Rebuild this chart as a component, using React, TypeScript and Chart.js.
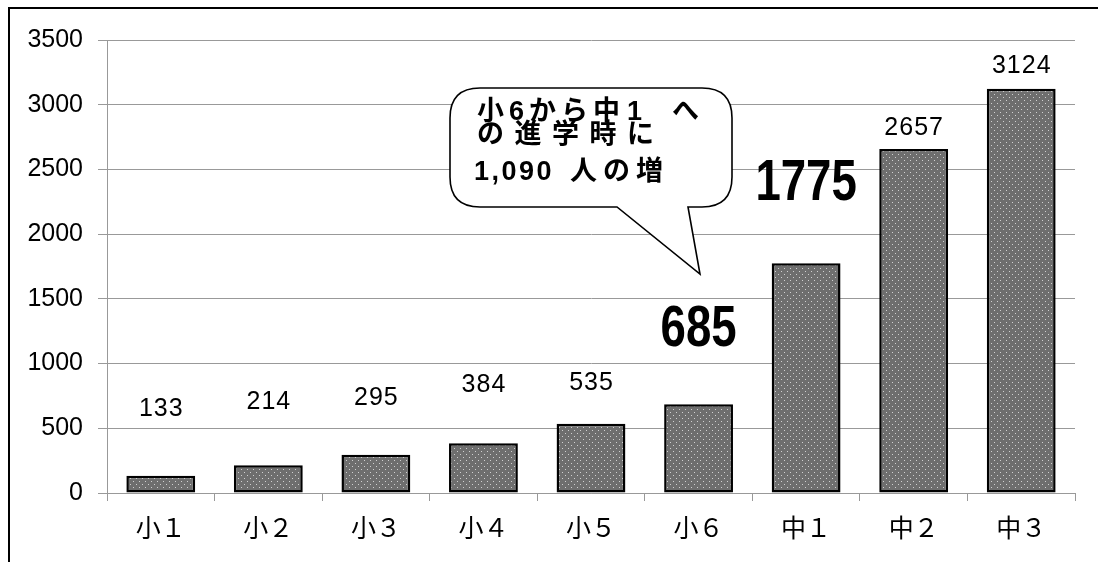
import React, { useEffect, useRef } from "react";
import { Chart, registerables } from "chart.js";

Chart.register(...registerables);

// ---- data ----
const categories = ["小１", "小２", "小３", "小４", "小５", "小６", "中１", "中２", "中３"];
const values = [133, 214, 295, 384, 535, 685, 1775, 2657, 3124];
const emphasized = [false, false, false, false, false, true, true, false, false];
const yMin = 0;
const yMax = 3500;
const yStep = 500;
// callout text, split into runs (text, x, baseline y, letter spacing)
const calloutRuns: [string, number, number, number][] = [
  ["小6から中", 477, 120, 5],
  ["1", 627, 120, 0],
  ["へ", 672, 120, 0],
  ["の進学時に", 477, 143, 10.5],
  ["1,090", 474, 180, 2.5],
  ["人の増", 570, 180, 6],
];

// label placement (pixels above bar top), annotation styling
const labelOffsets = [67, 63, 57, 58, 41, 74, 79, 21, 23];

function makePattern(): CanvasPattern | string {
  const c = document.createElement("canvas");
  c.width = 6;
  c.height = 6;
  const g = c.getContext("2d");
  if (!g) return "#7a7a7a";
  g.fillStyle = "#6e6e6e";
  g.fillRect(0, 0, 6, 6);
  g.fillStyle = "#d0d0d0";
  g.fillRect(1, 1, 1, 1);
  g.fillRect(4, 4, 1, 1);
  const p = g.createPattern(c, "repeat");
  return p || "#7a7a7a";
}

const labelPlugin = {
  id: "valueLabels",
  afterDatasetsDraw(chart: any) {
    const ctx = chart.ctx;
    const meta = chart.getDatasetMeta(0);
    meta.data.forEach((el: any, i: number) => {
      ctx.save();
      ctx.fillStyle = "#000";
      ctx.textAlign = "center";
      ctx.textBaseline = "middle";
      const y = el.y - labelOffsets[i];
      if (emphasized[i]) {
        ctx.font = 'bold 57px "Liberation Sans", sans-serif';
        ctx.translate(el.x, y);
        ctx.scale(0.8, 1);
        ctx.fillText(String(values[i]), 0, 0);
      } else {
        ctx.font = '25px "Liberation Sans", sans-serif';
        (ctx as any).letterSpacing = "1px";
        ctx.fillText(String(values[i]), el.x + 0.5, y);
        (ctx as any).letterSpacing = "0px";
      }
      ctx.restore();
    });
  },
};

const decorPlugin = {
  id: "decor",
  afterDraw(chart: any) {
    const ctx: CanvasRenderingContext2D = chart.ctx;
    ctx.save();
    // outer frame (top and left)
    ctx.strokeStyle = "#000";
    ctx.lineWidth = 2;
    ctx.beginPath();
    ctx.moveTo(9, 562);
    ctx.lineTo(9, 8);
    ctx.lineTo(1098, 8);
    ctx.stroke();

    // callout bubble
    const x0 = 450, y0 = 88, x1 = 732, y1 = 207, r = 30;
    ctx.beginPath();
    ctx.moveTo(x0 + r, y0);
    ctx.lineTo(x1 - r, y0);
    ctx.quadraticCurveTo(x1, y0, x1, y0 + r);
    ctx.lineTo(x1, y1 - r);
    ctx.quadraticCurveTo(x1, y1, x1 - r, y1);
    ctx.lineTo(688, y1);
    ctx.lineTo(700, 274);
    ctx.lineTo(617, y1);
    ctx.lineTo(x0 + r, y1);
    ctx.quadraticCurveTo(x0, y1, x0, y1 - r);
    ctx.lineTo(x0, y0 + r);
    ctx.quadraticCurveTo(x0, y0, x0 + r, y0);
    ctx.closePath();
    ctx.fillStyle = "#fff";
    ctx.fill();
    ctx.lineWidth = 1.6;
    ctx.strokeStyle = "#000";
    ctx.stroke();

    ctx.fillStyle = "#000";
    ctx.textAlign = "left";
    ctx.textBaseline = "alphabetic";
    const c = ctx as any;
    ctx.font = 'bold 27px "Liberation Sans", "Noto Sans CJK JP", sans-serif';
    calloutRuns.forEach(([t, x, y, s]) => {
      c.letterSpacing = s + "px";
      ctx.fillText(t, x, y);
    });
    c.letterSpacing = "0px";
    ctx.restore();
  },
};

export default function App() {
  const canvasRef = useRef<HTMLCanvasElement | null>(null);

  useEffect(() => {
    const canvas = canvasRef.current;
    if (!canvas) return;
    const chart = new Chart(canvas, {
      type: "bar",
      data: {
        labels: categories,
        datasets: [
          {
            data: values,
            backgroundColor: makePattern() as any,
            borderColor: "#000",
            borderWidth: 2.5,
            borderSkipped: false,
            categoryPercentage: 1,
            barPercentage: 0.64,
          },
        ],
      },
      options: {
        animation: false,
        responsive: false,
        devicePixelRatio: 1,
        layout: { padding: { top: 40, right: 23, left: 0, bottom: 0 } },
        plugins: {
          legend: { display: false },
          tooltip: { enabled: false },
        },
        scales: {
          x: {
            grid: {
              offset: true,
              drawOnChartArea: false,
              drawTicks: true,
              tickLength: 8,
              color: "#999",
            },
            border: { display: true, color: "#999" },
            ticks: {
              color: "#000",
              padding: 11,
              font: { family: '"Noto Sans CJK JP", sans-serif', size: 25 },
            },
            afterFit: (s: any) => {
              s.height = 69;
            },
          },
          y: {
            min: yMin,
            max: yMax,
            ticks: {
              stepSize: yStep,
              color: "#000",
              padding: 15,
              callback: (v: any) => String(v),
              font: { family: '"Liberation Sans", sans-serif', size: 25 },
            },
            grid: { color: "#999", tickLength: 9, drawTicks: true },
            border: { display: true, color: "#999" },
            afterFit: (s: any) => {
              s.width = 107;
            },
          },
        },
      },
      plugins: [labelPlugin, decorPlugin],
    });
    return () => chart.destroy();
  }, []);

  return (
    <div style={{ position: "fixed", left: 0, top: 0, width: 1098, height: 562, background: "#fff" }}>
      <canvas ref={canvasRef} width={1098} height={562} style={{ display: "block" }} />
    </div>
  );
}
